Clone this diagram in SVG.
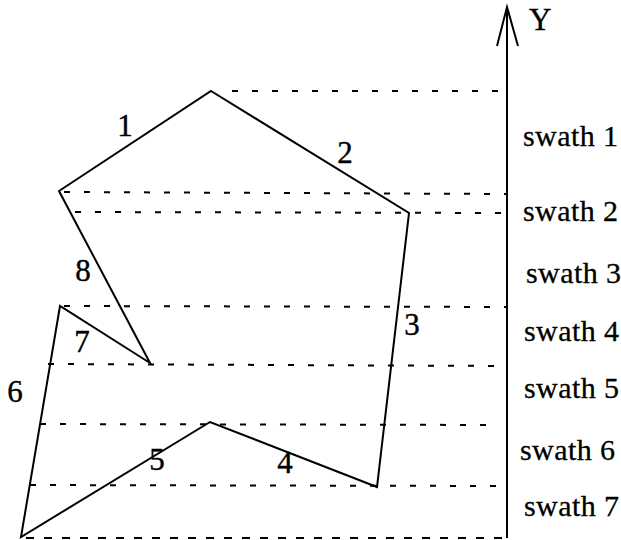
<svg xmlns="http://www.w3.org/2000/svg" width="621" height="540" viewBox="0 0 621 540">
<style>
.edge{fill:none;stroke:#000;stroke-width:2;stroke-linejoin:miter}
.dot{fill:none;stroke:#000;stroke-width:2;stroke-dasharray:6 14}
.lbl{font-family:"Liberation Serif","Times New Roman",serif;font-size:31px;fill:#000;stroke:#000;stroke-width:0.4}
.sw{font-family:"Liberation Serif","Times New Roman",serif;font-size:30px;fill:#000;stroke:#000;stroke-width:0.3}
</style>
<rect width="621" height="540" fill="#fff"/>
<g id="swath-lines">
<line class="dot" x1="232" y1="91" x2="506" y2="91"/>
<line class="dot" x1="64" y1="192" x2="506" y2="194"/>
<line class="dot" x1="75" y1="212" x2="506" y2="213"/>
<line class="dot" x1="64" y1="306" x2="506" y2="307"/>
<line class="dot" x1="48" y1="364" x2="506" y2="366"/>
<line class="dot" x1="40" y1="424" x2="500" y2="425"/>
<line class="dot" x1="30" y1="485" x2="506" y2="486"/>
<line class="dot" x1="26" y1="538" x2="506" y2="538" style="stroke-dasharray:8 10"/>
</g>
<g id="polygon">
<polygon class="edge" points="211,91 409,213 377,487 210,422 21,537 60,306 150,363 59,191"/>
</g>
<g id="edge-labels">
<text class="lbl" x="125" y="136" text-anchor="middle">1</text>
<text class="lbl" x="345" y="163" text-anchor="middle">2</text>
<text class="lbl" x="412" y="335" text-anchor="middle">3</text>
<text class="lbl" x="285" y="473" text-anchor="middle">4</text>
<text class="lbl" x="157" y="470" text-anchor="middle">5</text>
<text class="lbl" x="15" y="402" text-anchor="middle">6</text>
<text class="lbl" x="82" y="352" text-anchor="middle">7</text>
<text class="lbl" x="83" y="281" text-anchor="middle">8</text>
</g>
<g id="y-axis">
<line class="edge" x1="507" y1="538" x2="507" y2="9"/>
<polyline class="edge" points="497,46 507,7 518,46"/>
<text class="lbl" x="529" y="30">Y</text>
</g>
<g id="swath-labels">
<text class="sw" x="523" y="146" textLength="95">swath 1</text>
<text class="sw" x="523" y="221" textLength="95">swath 2</text>
<text class="sw" x="526" y="283" textLength="95">swath 3</text>
<text class="sw" x="524" y="341" textLength="95">swath 4</text>
<text class="sw" x="524" y="398" textLength="95">swath 5</text>
<text class="sw" x="520" y="460" textLength="95">swath 6</text>
<text class="sw" x="524" y="516" textLength="95">swath 7</text>
</g>
</svg>
